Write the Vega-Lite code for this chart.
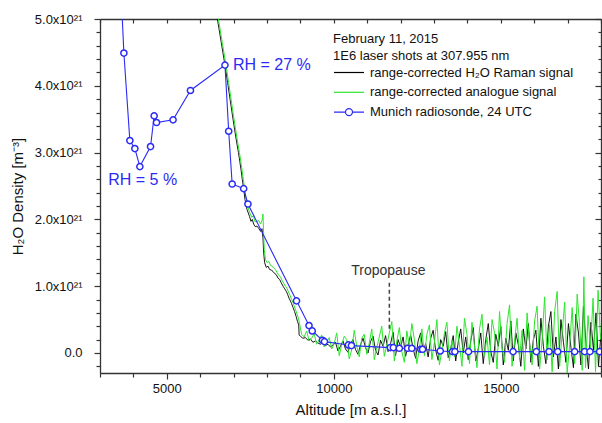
{
  "$schema": "https://vega.github.io/schema/vega-lite/v6.json",
  "width": 501,
  "height": 354,
  "autosize": {"type": "none"},
  "padding": {"left": 100, "top": 19, "right": 1, "bottom": 50},
  "config": {
    "font": "Liberation Sans",
    "view": {"stroke": null},
    "axis": {
      "domainColor": "#333333", "domainWidth": 1.3, "tickColor": "#333333", "tickWidth": 1.2,
      "labelColor": "#111111", "labelFontSize": 13, "labelFont": "Liberation Sans",
      "titleFontSize": 15, "titleFontWeight": "normal", "titleColor": "#111111", "titleFont": "Liberation Sans",
      "grid": false, "labelOverlap": false, "labelFlush": false
    }
  },
  "datasets": {
    "raman": [
      {"alt": 6440, "val": 5.35}, {"alt": 6515, "val": 5.0}, {"alt": 6630, "val": 4.65}, {"alt": 6742, "val": 4.31},
      {"alt": 6820, "val": 4.05}, {"alt": 6897, "val": 3.79}, {"alt": 6965, "val": 3.56}, {"alt": 7032, "val": 3.34},
      {"alt": 7090, "val": 3.16}, {"alt": 7145, "val": 3.0}, {"alt": 7185, "val": 2.87}, {"alt": 7223, "val": 2.74},
      {"alt": 7260, "val": 2.6}, {"alt": 7301, "val": 2.46}, {"alt": 7340, "val": 2.3}, {"alt": 7400, "val": 2.15},
      {"alt": 7480, "val": 2.04}, {"alt": 7520, "val": 1.97}, {"alt": 7560, "val": 2.0}, {"alt": 7600, "val": 1.93},
      {"alt": 7650, "val": 1.89}, {"alt": 7700, "val": 1.9}, {"alt": 7760, "val": 1.86}, {"alt": 7809, "val": 1.82},
      {"alt": 7850, "val": 1.86}, {"alt": 7880, "val": 1.72}, {"alt": 7900, "val": 1.5}, {"alt": 7930, "val": 1.35},
      {"alt": 7979, "val": 1.28}, {"alt": 8030, "val": 1.3}, {"alt": 8078, "val": 1.25}, {"alt": 8130, "val": 1.24},
      {"alt": 8180, "val": 1.22}, {"alt": 8227, "val": 1.19}, {"alt": 8280, "val": 1.17}, {"alt": 8330, "val": 1.12},
      {"alt": 8380, "val": 1.1}, {"alt": 8427, "val": 1.05}, {"alt": 8480, "val": 1.0}, {"alt": 8530, "val": 0.96},
      {"alt": 8580, "val": 0.92}, {"alt": 8615, "val": 0.88}, {"alt": 8660, "val": 0.82}, {"alt": 8700, "val": 0.78},
      {"alt": 8735, "val": 0.74}, {"alt": 8780, "val": 0.68}, {"alt": 8825, "val": 0.62}, {"alt": 8870, "val": 0.55},
      {"alt": 8914, "val": 0.47}, {"alt": 8950, "val": 0.42}, {"alt": 8962, "val": 0.27},
      {"alt": 9000, "val": 0.25}, {"alt": 9075, "val": 0.22}, {"alt": 9150, "val": 0.23}, {"alt": 9225, "val": 0.19},
      {"alt": 9300, "val": 0.21}, {"alt": 9375, "val": 0.16}, {"alt": 9450, "val": 0.18}, {"alt": 9525, "val": 0.15},
      {"alt": 9600, "val": 0.13}, {"alt": 9675, "val": 0.16}, {"alt": 9750, "val": 0.11}, {"alt": 9825, "val": 0.13},
      {"alt": 9900, "val": 0.09}, {"alt": 9975, "val": 0.12},
      {"alt": 10050, "val": 0.16}, {"alt": 10125, "val": 0.03}, {"alt": 10200, "val": 0.1}, {"alt": 10275, "val": 0.18},
      {"alt": 10350, "val": 0.06}, {"alt": 10425, "val": 0.01}, {"alt": 10500, "val": 0.14}, {"alt": 10575, "val": 0.2},
      {"alt": 10650, "val": 0.05}, {"alt": 10725, "val": -0.02}, {"alt": 10800, "val": 0.12}, {"alt": 10875, "val": 0.22},
      {"alt": 10950, "val": 0.08}, {"alt": 11025, "val": 0.0}, {"alt": 11100, "val": 0.17}, {"alt": 11175, "val": 0.25},
      {"alt": 11250, "val": 0.04}, {"alt": 11325, "val": -0.03}, {"alt": 11400, "val": 0.19}, {"alt": 11475, "val": 0.1},
      {"alt": 11550, "val": 0.26}, {"alt": 11625, "val": 0.02}, {"alt": 11700, "val": 0.14}, {"alt": 11775, "val": 0.31},
      {"alt": 11850, "val": -0.04}, {"alt": 11925, "val": 0.2}, {"alt": 12000, "val": 0.09},
      {"alt": 12075, "val": 0.24}, {"alt": 12150, "val": -0.05}, {"alt": 12225, "val": 0.12}, {"alt": 12300, "val": 0.27},
      {"alt": 12375, "val": 0.06}, {"alt": 12450, "val": -0.08}, {"alt": 12525, "val": 0.18}, {"alt": 12600, "val": 0.3},
      {"alt": 12675, "val": 0.02}, {"alt": 12750, "val": 0.14}, {"alt": 12825, "val": -0.06}, {"alt": 12900, "val": 0.22},
      {"alt": 12975, "val": 0.34}, {"alt": 13050, "val": 0.04}, {"alt": 13125, "val": -0.11}, {"alt": 13200, "val": 0.2},
      {"alt": 13275, "val": 0.1}, {"alt": 13350, "val": 0.32}, {"alt": 13425, "val": -0.07}, {"alt": 13500, "val": 0.06},
      {"alt": 13575, "val": 0.26}, {"alt": 13650, "val": -0.12}, {"alt": 13725, "val": 0.16}, {"alt": 13800, "val": 0.36},
      {"alt": 13875, "val": 0.0}, {"alt": 13950, "val": 0.24}, {"alt": 14025, "val": -0.1},
      {"alt": 14100, "val": 0.18}, {"alt": 14175, "val": 0.38}, {"alt": 14250, "val": -0.12}, {"alt": 14325, "val": 0.06},
      {"alt": 14400, "val": 0.3}, {"alt": 14475, "val": -0.16}, {"alt": 14550, "val": 0.2}, {"alt": 14625, "val": 0.44},
      {"alt": 14700, "val": 0.02}, {"alt": 14775, "val": -0.14}, {"alt": 14850, "val": 0.28}, {"alt": 14925, "val": 0.1},
      {"alt": 15000, "val": 0.4}, {"alt": 15075, "val": -0.18}, {"alt": 15150, "val": 0.22}, {"alt": 15225, "val": 0.04},
      {"alt": 15300, "val": 0.48}, {"alt": 15375, "val": -0.12}, {"alt": 15450, "val": 0.3}, {"alt": 15525, "val": 0.12},
      {"alt": 15600, "val": -0.2}, {"alt": 15675, "val": 0.36}, {"alt": 15750, "val": 0.06}, {"alt": 15825, "val": 0.44},
      {"alt": 15900, "val": -0.14}, {"alt": 15975, "val": 0.2}, {"alt": 16050, "val": 0.34},
      {"alt": 16125, "val": -0.2}, {"alt": 16200, "val": 0.52}, {"alt": 16275, "val": 0.1}, {"alt": 16350, "val": -0.16},
      {"alt": 16425, "val": 0.4}, {"alt": 16500, "val": 0.62}, {"alt": 16575, "val": -0.06}, {"alt": 16650, "val": 0.24},
      {"alt": 16725, "val": -0.24}, {"alt": 16800, "val": 0.5}, {"alt": 16875, "val": 0.16}, {"alt": 16950, "val": -0.14},
      {"alt": 17025, "val": 0.44}, {"alt": 17100, "val": 0.08}, {"alt": 17175, "val": -0.22}, {"alt": 17250, "val": 0.58},
      {"alt": 17325, "val": 0.3}, {"alt": 17400, "val": -0.18}, {"alt": 17475, "val": 0.7}, {"alt": 17550, "val": 0.14},
      {"alt": 17625, "val": -0.24}, {"alt": 17700, "val": 0.46}, {"alt": 17775, "val": 0.04}, {"alt": 17850, "val": 0.6},
      {"alt": 17925, "val": -0.2}, {"alt": 18000, "val": 0.3}
    ],
    "analogue": [
      {"alt": 6470, "val": 5.35}, {"alt": 6545, "val": 5.0}, {"alt": 6660, "val": 4.65}, {"alt": 6772, "val": 4.31},
      {"alt": 6850, "val": 4.05}, {"alt": 6927, "val": 3.79}, {"alt": 6995, "val": 3.56}, {"alt": 7062, "val": 3.34},
      {"alt": 7120, "val": 3.16}, {"alt": 7175, "val": 3.0}, {"alt": 7215, "val": 2.87}, {"alt": 7253, "val": 2.74},
      {"alt": 7290, "val": 2.6}, {"alt": 7331, "val": 2.46}, {"alt": 7370, "val": 2.32}, {"alt": 7430, "val": 2.18},
      {"alt": 7485, "val": 2.1}, {"alt": 7545, "val": 2.03}, {"alt": 7595, "val": 2.06}, {"alt": 7635, "val": 1.97},
      {"alt": 7695, "val": 1.96}, {"alt": 7745, "val": 1.99}, {"alt": 7805, "val": 1.93}, {"alt": 7855, "val": 1.99},
      {"alt": 7880, "val": 2.08}, {"alt": 7898, "val": 1.8}, {"alt": 7918, "val": 1.55}, {"alt": 7955, "val": 1.4},
      {"alt": 8005, "val": 1.35}, {"alt": 8055, "val": 1.37}, {"alt": 8105, "val": 1.31}, {"alt": 8155, "val": 1.3},
      {"alt": 8205, "val": 1.27}, {"alt": 8255, "val": 1.25}, {"alt": 8305, "val": 1.2}, {"alt": 8355, "val": 1.16},
      {"alt": 8405, "val": 1.14}, {"alt": 8455, "val": 1.08}, {"alt": 8505, "val": 1.04}, {"alt": 8555, "val": 1.0},
      {"alt": 8605, "val": 0.96}, {"alt": 8645, "val": 0.91}, {"alt": 8695, "val": 0.86}, {"alt": 8735, "val": 0.8},
      {"alt": 8775, "val": 0.76}, {"alt": 8815, "val": 0.7}, {"alt": 8860, "val": 0.64}, {"alt": 8900, "val": 0.58},
      {"alt": 8940, "val": 0.52}, {"alt": 8975, "val": 0.44}, {"alt": 9005, "val": 0.36},
      {"alt": 9037, "val": 0.28}, {"alt": 9112, "val": 0.24}, {"alt": 9187, "val": 0.33}, {"alt": 9262, "val": 0.18},
      {"alt": 9337, "val": 0.22}, {"alt": 9412, "val": 0.29}, {"alt": 9487, "val": 0.13}, {"alt": 9562, "val": 0.2},
      {"alt": 9637, "val": 0.27}, {"alt": 9712, "val": 0.09}, {"alt": 9787, "val": 0.16}, {"alt": 9862, "val": 0.23},
      {"alt": 9937, "val": 0.06},
      {"alt": 10012, "val": 0.14}, {"alt": 10087, "val": 0.3}, {"alt": 10162, "val": -0.04}, {"alt": 10237, "val": 0.12},
      {"alt": 10312, "val": 0.25}, {"alt": 10387, "val": 0.2}, {"alt": 10462, "val": -0.09}, {"alt": 10537, "val": 0.05},
      {"alt": 10612, "val": 0.34}, {"alt": 10687, "val": 0.1}, {"alt": 10762, "val": -0.06}, {"alt": 10837, "val": 0.22},
      {"alt": 10912, "val": 0.28}, {"alt": 10987, "val": -0.02}, {"alt": 11062, "val": 0.15}, {"alt": 11137, "val": 0.36},
      {"alt": 11212, "val": -0.1}, {"alt": 11287, "val": 0.08}, {"alt": 11362, "val": 0.24}, {"alt": 11437, "val": 0.4},
      {"alt": 11512, "val": -0.05}, {"alt": 11587, "val": 0.12}, {"alt": 11662, "val": 0.3}, {"alt": 11737, "val": 0.47},
      {"alt": 11812, "val": -0.12}, {"alt": 11887, "val": 0.18}, {"alt": 11962, "val": 0.38},
      {"alt": 12037, "val": 0.02}, {"alt": 12112, "val": -0.14}, {"alt": 12187, "val": 0.33}, {"alt": 12262, "val": 0.1},
      {"alt": 12337, "val": 0.44}, {"alt": 12412, "val": 0.2}, {"alt": 12487, "val": -0.16}, {"alt": 12562, "val": 0.06},
      {"alt": 12637, "val": 0.36}, {"alt": 12712, "val": -0.04}, {"alt": 12787, "val": 0.28}, {"alt": 12862, "val": 0.42},
      {"alt": 12937, "val": -0.1}, {"alt": 13012, "val": 0.16}, {"alt": 13087, "val": 0.5}, {"alt": 13162, "val": -0.18},
      {"alt": 13237, "val": 0.04}, {"alt": 13312, "val": 0.3}, {"alt": 13387, "val": 0.46}, {"alt": 13462, "val": -0.12},
      {"alt": 13537, "val": 0.2}, {"alt": 13612, "val": -0.06}, {"alt": 13687, "val": 0.4}, {"alt": 13762, "val": 0.12},
      {"alt": 13837, "val": -0.2}, {"alt": 13912, "val": 0.52}, {"alt": 13987, "val": 0.28},
      {"alt": 14062, "val": -0.16}, {"alt": 14137, "val": 0.46}, {"alt": 14212, "val": 0.1}, {"alt": 14287, "val": -0.22},
      {"alt": 14362, "val": 0.36}, {"alt": 14437, "val": 0.58}, {"alt": 14512, "val": -0.04}, {"alt": 14587, "val": 0.24},
      {"alt": 14662, "val": -0.18}, {"alt": 14737, "val": 0.5}, {"alt": 14812, "val": 0.3}, {"alt": 14887, "val": -0.24},
      {"alt": 14962, "val": 0.62}, {"alt": 15037, "val": 0.08}, {"alt": 15112, "val": -0.14}, {"alt": 15187, "val": 0.44},
      {"alt": 15262, "val": 0.72}, {"alt": 15337, "val": -0.2}, {"alt": 15412, "val": 0.18}, {"alt": 15487, "val": 0.52},
      {"alt": 15562, "val": -0.08}, {"alt": 15637, "val": 0.34}, {"alt": 15712, "val": -0.26}, {"alt": 15787, "val": 0.6},
      {"alt": 15862, "val": 0.14}, {"alt": 15937, "val": -0.18}, {"alt": 16012, "val": 0.48},
      {"alt": 16087, "val": 0.7}, {"alt": 16162, "val": -0.24}, {"alt": 16237, "val": 0.2}, {"alt": 16312, "val": 0.84},
      {"alt": 16387, "val": -0.1}, {"alt": 16462, "val": 0.42}, {"alt": 16537, "val": -0.28}, {"alt": 16612, "val": 0.62},
      {"alt": 16687, "val": 0.92}, {"alt": 16762, "val": -0.2}, {"alt": 16837, "val": 0.3}, {"alt": 16912, "val": 0.76},
      {"alt": 16987, "val": -0.3}, {"alt": 17062, "val": 0.12}, {"alt": 17137, "val": 0.68}, {"alt": 17212, "val": -0.16},
      {"alt": 17287, "val": 0.88}, {"alt": 17362, "val": 0.4}, {"alt": 17437, "val": -0.26}, {"alt": 17487, "val": 1.14},
      {"alt": 17537, "val": -0.22}, {"alt": 17612, "val": 0.56}, {"alt": 17687, "val": 0.08}, {"alt": 17762, "val": 0.82},
      {"alt": 17837, "val": -0.28}, {"alt": 17912, "val": 0.94}, {"alt": 17987, "val": 0.2}
    ],
    "sonde": [
      {"alt": 3640, "val": 5.3}, {"alt": 3715, "val": 4.49}, {"alt": 3894, "val": 3.18}, {"alt": 4044, "val": 3.06},
      {"alt": 4193, "val": 2.79}, {"alt": 4513, "val": 3.09}, {"alt": 4621, "val": 3.55}, {"alt": 4692, "val": 3.45},
      {"alt": 5188, "val": 3.49}, {"alt": 5708, "val": 3.93}, {"alt": 6742, "val": 4.31}, {"alt": 6853, "val": 3.32},
      {"alt": 6957, "val": 2.53}, {"alt": 7301, "val": 2.46}, {"alt": 7429, "val": 2.23}, {"alt": 8884, "val": 0.78},
      {"alt": 9258, "val": 0.41}, {"alt": 9354, "val": 0.33}, {"alt": 9661, "val": 0.19}, {"alt": 9721, "val": 0.17},
      {"alt": 10438, "val": 0.12}, {"alt": 10528, "val": 0.11}, {"alt": 11693, "val": 0.08}, {"alt": 11783, "val": 0.08},
      {"alt": 11962, "val": 0.07}, {"alt": 12210, "val": 0.07}, {"alt": 12335, "val": 0.07}, {"alt": 12604, "val": 0.055},
      {"alt": 12658, "val": 0.055}, {"alt": 13187, "val": 0.03}, {"alt": 13554, "val": 0.02}, {"alt": 13626, "val": 0.02},
      {"alt": 14033, "val": 0.02}, {"alt": 15368, "val": 0.02}, {"alt": 16065, "val": 0.02}, {"alt": 16444, "val": 0.02},
      {"alt": 16704, "val": 0.02}, {"alt": 17212, "val": 0.02}, {"alt": 17511, "val": 0.02}, {"alt": 17669, "val": 0.02},
      {"alt": 17959, "val": 0.02}
    ],
    "rh": [
      {"alt": 6980, "val": 4.31, "label": "RH = 27 %"},
      {"alt": 3246, "val": 2.59, "label": "RH = 5 %"}
    ],
    "tropo": [
      {"alt": 11663, "top": 1.05, "bottom": 0.34, "textval": 1.23, "textalt": 11633, "label": "Tropopause"}
    ]
  },
  "resolve": {"axis": {"x": "independent", "y": "independent"}, "scale": {"x": "shared", "y": "shared", "color": "shared"}},
  "layer": [
    {
      "mark": {"type": "rule", "color": "black", "strokeWidth": 2},
      "encoding": {
        "y": {"datum": 0, "type": "quantitative", "scale": {"domain": [-0.3, 5], "nice": false, "zero": false}, "axis": null}
      }
    },
    {
      "data": {"name": "raman"},
      "mark": {"type": "line", "strokeWidth": 0.9, "clip": true},
      "encoding": {
        "x": {
          "field": "alt", "type": "quantitative",
          "scale": {"domain": [3000, 18000], "nice": false, "zero": false},
          "axis": {
            "orient": "top",
            "values": [3000, 4000, 5000, 6000, 7000, 8000, 9000, 10000, 11000, 12000, 13000, 14000, 15000, 16000, 17000, 18000],
            "labels": false, "title": null,
            "tickSize": -4
          }
        },
        "y": {
          "field": "val", "type": "quantitative",
          "scale": {"domain": [-0.3, 5], "nice": false, "zero": false},
          "axis": {
            "orient": "right",
            "values": [-0.2, 0, 0.2, 0.4, 0.6, 0.8, 1, 1.2, 1.4, 1.6, 1.8, 2, 2.2, 2.4, 2.6, 2.8, 3, 3.2, 3.4, 3.6, 3.8, 4, 4.2, 4.4, 4.6, 4.8, 5],
            "labels": false, "title": null,
            "tickSize": {"condition": {"test": "abs(datum.value - round(datum.value)) < 0.01", "value": -6}, "value": -3}
          }
        },
        "color": {
          "datum": "range-corrected H₂O Raman signal",
          "scale": {
            "domain": ["range-corrected H₂O Raman signal", "range-corrected analogue signal", "Munich radiosonde, 24 UTC"],
            "range": ["#000000", "#2ee62e", "#2b2bf5"]
          },
          "legend": {
            "orient": "none", "legendX": 233, "legendY": 14,
            "title": ["February 11, 2015", "1E6 laser shots at 307.955 nm"],
            "titleFontSize": 13, "titleFontWeight": "normal", "titleColor": "#111111", "titleLineHeight": 16.5,
            "titlePadding": 1.5, "titleFont": "Liberation Sans", "titleLimit": 0,
            "labelFontSize": 13, "labelColor": "#111111", "labelOffset": 20, "labelFont": "Liberation Sans", "labelLimit": 0,
            "rowPadding": 3.8, "symbolSize": 225, "symbolStrokeWidth": 1.2, "padding": 0,
            "symbolType": "stroke",
            "encode": {
              "symbols": {
                "update": {
                  "shape": {"signal": "datum.value === 'Munich radiosonde, 24 UTC' ? 'M-1,0L0.53,0M1.47,0L3,0M1.47,0A0.47,0.47,0,1,1,0.53,0A0.47,0.47,0,1,1,1.47,0' : 'M-1,0L3,0'"},
                  "fill": {"value": "white"}
                }
              }
            }
          }
        }
      }
    },
    {
      "data": {"name": "analogue"},
      "mark": {"type": "line", "strokeWidth": 1, "clip": true},
      "encoding": {
        "x": {
          "field": "alt", "type": "quantitative",
          "scale": {"domain": [3000, 18000], "nice": false, "zero": false},
          "axis": {
            "orient": "bottom",
            "values": [3000, 4000, 5000, 6000, 7000, 8000, 9000, 10000, 11000, 12000, 13000, 14000, 15000, 16000, 17000, 18000],
            "labelExpr": "datum.value % 5000 === 0 ? '' + datum.value : ''",
            "tickSize": {"condition": {"test": "datum.value % 5000 === 0", "value": 6}, "value": 4},
            "labelPadding": 3,
            "title": "Altitude [m a.s.l.]",
            "titlePadding": 7
          }
        },
        "y": {
          "field": "val", "type": "quantitative",
          "scale": {"domain": [-0.3, 5], "nice": false, "zero": false},
          "axis": {
            "orient": "left",
            "values": [-0.2, 0, 0.2, 0.4, 0.6, 0.8, 1, 1.2, 1.4, 1.6, 1.8, 2, 2.2, 2.4, 2.6, 2.8, 3, 3.2, 3.4, 3.6, 3.8, 4, 4.2, 4.4, 4.6, 4.8, 5],
            "labelExpr": "abs(datum.value - round(datum.value)) < 0.01 ? (abs(datum.value) < 0.01 ? '0.0' : format(datum.value, '.1f') + 'x10²¹') : ''",
            "tickSize": {"condition": {"test": "abs(datum.value - round(datum.value)) < 0.01", "value": 6}, "value": 4},
            "labelPadding": 12,
            "title": "H₂O Density [m⁻³]",
            "titlePadding": 9
          }
        },
        "color": {"datum": "range-corrected analogue signal"}
      }
    },
    {
      "data": {"name": "sonde"},
      "mark": {"type": "line", "strokeWidth": 1.1, "clip": true},
      "encoding": {
        "x": {"field": "alt", "type": "quantitative", "scale": {"domain": [3000, 18000], "nice": false, "zero": false}, "axis": null},
        "y": {"field": "val", "type": "quantitative", "scale": {"domain": [-0.3, 5], "nice": false, "zero": false}, "axis": null},
        "color": {"datum": "Munich radiosonde, 24 UTC"}
      }
    },
    {
      "data": {"name": "sonde"},
      "mark": {"type": "point", "shape": "circle", "filled": false, "fill": "white", "fillOpacity": 1, "stroke": "#2b2bf5", "strokeWidth": 1.5, "size": 38, "opacity": 1, "clip": true},
      "encoding": {
        "x": {"field": "alt", "type": "quantitative", "scale": {"domain": [3000, 18000], "nice": false, "zero": false}, "axis": null},
        "y": {"field": "val", "type": "quantitative", "scale": {"domain": [-0.3, 5], "nice": false, "zero": false}, "axis": null}
      }
    },
    {
      "data": {"name": "tropo"},
      "mark": {"type": "rule", "color": "#444444", "strokeWidth": 1.5, "strokeDash": [4, 3]},
      "encoding": {
        "x": {"field": "alt", "type": "quantitative", "scale": {"domain": [3000, 18000], "nice": false, "zero": false}, "axis": null},
        "y": {"field": "top", "type": "quantitative", "scale": {"domain": [-0.3, 5], "nice": false, "zero": false}, "axis": null},
        "y2": {"field": "bottom"}
      }
    },
    {
      "data": {"name": "tropo"},
      "mark": {"type": "text", "fontSize": 14, "color": "#333333", "align": "center", "baseline": "middle", "font": "Liberation Sans"},
      "encoding": {
        "x": {"field": "textalt", "type": "quantitative", "scale": {"domain": [3000, 18000], "nice": false, "zero": false}, "axis": null},
        "y": {"field": "textval", "type": "quantitative", "scale": {"domain": [-0.3, 5], "nice": false, "zero": false}, "axis": null},
        "text": {"field": "label"}
      }
    },
    {
      "data": {"name": "rh"},
      "mark": {"type": "text", "fontSize": 16, "color": "#2b2bf5", "align": "left", "baseline": "middle", "font": "Liberation Sans"},
      "encoding": {
        "x": {"field": "alt", "type": "quantitative", "scale": {"domain": [3000, 18000], "nice": false, "zero": false}, "axis": null},
        "y": {"field": "val", "type": "quantitative", "scale": {"domain": [-0.3, 5], "nice": false, "zero": false}, "axis": null},
        "text": {"field": "label"}
      }
    }
  ]
}
